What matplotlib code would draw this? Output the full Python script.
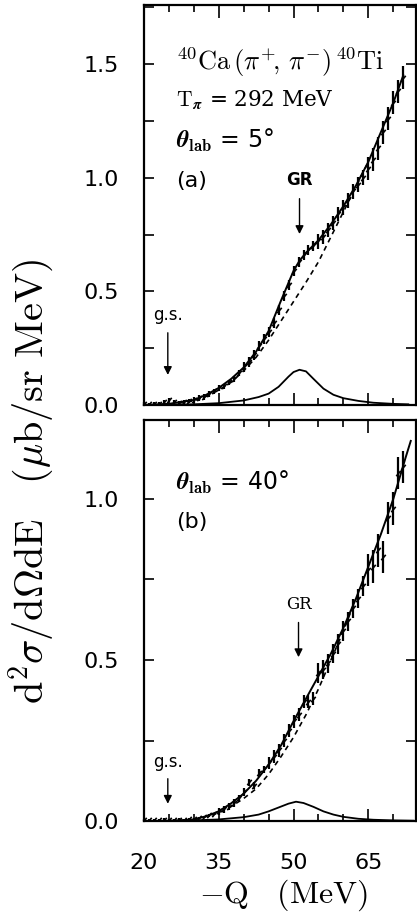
import numpy as np
import matplotlib
matplotlib.use("Agg")
import matplotlib.pyplot as plt
from matplotlib.ticker import FixedLocator, MultipleLocator

plt.rcParams['mathtext.fontset'] = 'cm'
plt.rcParams['font.family'] = 'DejaVu Sans'

# ---- panel (a): theta_lab = 5 deg ----
q_a = [20, 21, 22, 23, 24, 25, 26, 27, 28, 29, 30, 31, 32, 33, 34, 35, 36, 37,
       38, 39, 40, 41, 42, 43, 44, 45, 46, 47, 48, 49, 50, 51, 52, 53, 54, 55,
       56, 57, 58, 59, 60, 61, 62, 63, 64, 65, 66, 67, 68, 69, 70, 71, 72]
xs_a = [0.005, 0.003, 0.006, 0.004, 0.012, 0.022, 0.015, 0.010, 0.012, 0.018,
        0.022, 0.030, 0.035, 0.048, 0.060, 0.075, 0.082, 0.100, 0.115, 0.140,
        0.165, 0.190, 0.220, 0.260, 0.290, 0.320, 0.360, 0.420, 0.480, 0.530,
        0.590, 0.630, 0.660, 0.680, 0.700, 0.720, 0.740, 0.770, 0.800, 0.840,
        0.870, 0.900, 0.940, 0.970, 1.000, 1.040, 1.080, 1.130, 1.200, 1.260,
        1.330, 1.380, 1.440]
err_a = [0.008] * 10 + [0.012] * 10 + [0.022] * 15 + [0.032] * 10 + [0.05] * 8

fit_q_a = [20, 25, 30, 32.5, 35, 37.5, 40, 42.5, 45, 47.5, 50, 51.2, 52.5, 55,
           57.5, 60, 62.5, 65, 67.5, 70, 72]
total_a = [0.0, 0.005, 0.022, 0.045, 0.075, 0.115, 0.165, 0.235, 0.325, 0.46,
           0.59, 0.635, 0.67, 0.725, 0.795, 0.875, 0.965, 1.07, 1.20, 1.33, 1.45]
bg_q_a = [25, 30, 32.5, 35, 37.5, 40, 42.5, 45, 47.5, 50, 52.5, 55, 57.5, 60,
          62.5, 65]
bg_a = [0.003, 0.018, 0.038, 0.065, 0.1, 0.15, 0.21, 0.285, 0.37, 0.455, 0.54,
        0.63, 0.74, 0.85, 0.96, 1.07]
gr_q_a = [20, 30, 35, 40, 43, 45, 47, 49, 50, 51.2, 52.5, 54, 56, 58, 60, 63,
          66, 70, 73]
gr_a = [0.0, 0.003, 0.008, 0.02, 0.035, 0.05, 0.08, 0.125, 0.145, 0.155, 0.148,
        0.115, 0.072, 0.045, 0.03, 0.018, 0.01, 0.005, 0.003]

# ---- panel (b): theta_lab = 40 deg ----
q_b = q_a
xs_b = [0.003, 0.002, 0.003, 0.002, 0.004, 0.003, 0.002, 0.004, 0.003, 0.005,
        0.006, 0.010, 0.012, 0.018, 0.022, 0.030, 0.036, 0.045, 0.055, 0.070,
        0.090, 0.120, 0.110, 0.150, 0.160, 0.180, 0.200, 0.220, 0.250, 0.280,
        0.310, 0.330, 0.370, 0.370, 0.380, 0.460, 0.470, 0.490, 0.520, 0.550,
        0.590, 0.620, 0.660, 0.690, 0.730, 0.780, 0.790, 0.840, 0.820, 0.940,
        0.970, 1.080, 1.100]
err_b = [0.004] * 15 + [0.012] * 10 + [0.02] * 10 + [0.03] * 10 + [0.05] * 8

fit_q_b = [25, 30, 32.5, 35, 37.5, 40, 42.5, 45, 47.5, 50, 52.5, 55, 57.5, 60,
           62.5, 65, 67.5, 70, 72.5, 73.5]
total_b = [0.0, 0.005, 0.015, 0.03, 0.055, 0.085, 0.125, 0.175, 0.235, 0.31,
           0.38, 0.45, 0.52, 0.60, 0.69, 0.79, 0.89, 1.0, 1.13, 1.18]
bg_q_b = [30, 35, 37.5, 40, 42.5, 45, 47.5, 50, 52.5, 55, 57.5, 60, 62.5]
bg_b = [0.004, 0.025, 0.045, 0.07, 0.10, 0.145, 0.20, 0.26, 0.33, 0.41, 0.50,
        0.59, 0.69]
gr_q_b = [20, 30, 35, 40, 43, 45, 47, 49, 50.5, 52, 54, 56, 58, 60, 63, 66,
          70, 74]
gr_b = [0.0, 0.002, 0.005, 0.012, 0.02, 0.03, 0.042, 0.054, 0.06, 0.056,
        0.044, 0.03, 0.02, 0.013, 0.007, 0.004, 0.002, 0.001]

x_ticks = [20, 35, 50, 65]

fig = plt.figure(figsize=(4.17, 9.19), dpi=100)
ax1 = fig.add_axes([0.345, 0.5593, 0.652, 0.4353])
ax2 = fig.add_axes([0.345, 0.1066, 0.652, 0.4364])

def style(ax, ymax, show_x):
    ax.set_xlim(20, 74.5)
    ax.set_ylim(0, ymax)
    ax.xaxis.set_major_locator(FixedLocator(x_ticks))
    ax.xaxis.set_minor_locator(MultipleLocator(5))
    ax.yaxis.set_major_locator(MultipleLocator(0.5))
    ax.yaxis.set_minor_locator(MultipleLocator(0.25))
    ax.tick_params(which='both', direction='in', top=True, right=True,
                   width=1.2, labelsize=16)
    ax.tick_params(which='major', length=9)
    ax.tick_params(which='minor', length=5)
    ax.tick_params(axis='y', which='both', length=7, pad=18)
    ax.tick_params(axis='x', pad=23)
    for s in ax.spines.values():
        s.set_linewidth(1.6)
    ax.set_yticklabels([f'{t:.1f}' for t in ax.get_yticks()])
    if show_x:
        ax.set_xticklabels([str(t) for t in x_ticks])
    else:
        ax.tick_params(labelbottom=False)

for ax, q, xs, err, fq, tot, bq, bg, gq, gr in [
        (ax1, q_a, xs_a, err_a, fit_q_a, total_a, bg_q_a, bg_a, gr_q_a, gr_a),
        (ax2, q_b, xs_b, err_b, fit_q_b, total_b, bg_q_b, bg_b, gr_q_b, gr_b)]:
    ax.errorbar(q, xs, yerr=err, fmt='none', ecolor='black', elinewidth=1.6,
                capsize=0, clip_on=False)
    ax.plot(q, xs, ls='none', marker=(2, 0, -40), ms=5, mew=1.2, color='black')
    ax.plot(fq, tot, color='black', lw=1.4)
    ax.plot(bq, bg, color='black', lw=1.2, ls=(0, (3, 2.5)))
    ax.plot(gq, gr, color='black', lw=1.3)

style(ax1, 1.76, False)
style(ax2, 1.245, True)

arrow = dict(arrowstyle='-|>', color='black', lw=1.0, mutation_scale=12)

# annotations panel (a)
ax1.text(0.12, 0.857, r'$^{40}\mathrm{Ca}\,(\pi^{+}\!,\,\pi^{-})\,^{40}\mathrm{Ti}$',
         transform=ax1.transAxes, fontsize=19, va='center', ha='left')
ax1.text(0.12, 0.762, r'$\mathrm{T}_{\boldsymbol{\pi}}$ = 292 MeV',
         transform=ax1.transAxes, fontsize=15.5, va='center', ha='left',
         family='DejaVu Serif')
ax1.text(0.12, 0.662, r'$\boldsymbol{\theta}_{\mathbf{lab}}$ = 5°',
         transform=ax1.transAxes, fontsize=17, va='center', ha='left')
ax1.text(0.12, 0.56, '(a)', transform=ax1.transAxes, fontsize=16, va='center',
         ha='left')
ax1.annotate('', xy=(51.2, 0.74), xytext=(51.2, 0.92), arrowprops=arrow)
ax1.text(51.2, 0.95, 'GR', ha='center', va='bottom', fontsize=12,
         fontweight='bold')
ax1.annotate('', xy=(24.8, 0.12), xytext=(24.8, 0.33), arrowprops=arrow)
ax1.text(24.8, 0.355, 'g.s.', ha='center', va='bottom', fontsize=12)

# annotations panel (b)
ax2.text(0.12, 0.845, r'$\boldsymbol{\theta}_{\mathbf{lab}}$ = 40°',
         transform=ax2.transAxes, fontsize=17, va='center', ha='left')
ax2.text(0.12, 0.746, '(b)', transform=ax2.transAxes, fontsize=16, va='center',
         ha='left')
ax2.annotate('', xy=(51.0, 0.5), xytext=(51.0, 0.625), arrowprops=arrow)
ax2.text(51.0, 0.645, 'GR', ha='center', va='bottom', fontsize=12,
         family='DejaVu Serif')
ax2.annotate('', xy=(24.8, 0.045), xytext=(24.8, 0.14), arrowprops=arrow)
ax2.text(24.8, 0.155, 'g.s.', ha='center', va='bottom', fontsize=12)

fig.text(0.075, 0.476,
         r'$\mathrm{d}^2\sigma/\mathrm{d}\Omega\mathrm{dE}\ \ \ (\mu\mathrm{b/sr\ MeV})$',
         rotation=90, ha='center', va='center', fontsize=29)
fig.text(0.68, 0.026, r'$-\mathrm{Q}\quad(\mathrm{MeV})$', ha='center',
         va='center', fontsize=23)

fig.savefig('out.png', dpi=100)
